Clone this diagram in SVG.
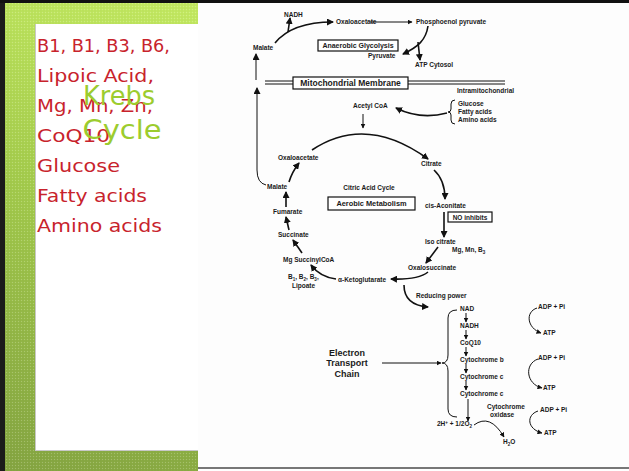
<svg xmlns="http://www.w3.org/2000/svg" width="629" height="471" viewBox="0 0 629 471">
<style>
.lbl{font-family:"Liberation Sans",Arial,sans-serif;font-weight:bold;font-size:6.5px;fill:#1a1a1a}
.mid{text-anchor:middle}
.big{font-family:"Liberation Sans",Arial,sans-serif;font-weight:bold;font-size:9px;fill:#1a1a1a;text-anchor:middle}
.red{font-family:"DejaVu Sans","Liberation Sans",sans-serif;font-size:18.5px;fill:#c8232c}
.title{font-family:"DejaVu Sans","Liberation Sans",sans-serif;font-size:26px;fill:#9ccc2e;text-anchor:middle}
.c{fill:none;stroke:#111;stroke-width:1.6}
.t{fill:none;stroke:#111;stroke-width:1}
.box{fill:#fff;stroke:#111;stroke-width:1.2}
</style>
<defs>
<marker id="ah" markerUnits="userSpaceOnUse" markerWidth="7" markerHeight="7" refX="6" refY="3.5" orient="auto">
<path d="M0,0 L7,3.5 L0,7 z" fill="#111"/>
</marker>
<marker id="as" markerUnits="userSpaceOnUse" markerWidth="5" markerHeight="5" refX="4.5" refY="2.5" orient="auto">
<path d="M0,0 L5,2.5 L0,5 z" fill="#111"/>
</marker>
<linearGradient id="grn" gradientUnits="userSpaceOnUse" x1="170" y1="0" x2="30" y2="471">
<stop offset="0" stop-color="#c4ea62"/>
<stop offset="0.45" stop-color="#a3cb4c"/>
<stop offset="1" stop-color="#86a642"/>
</linearGradient>
<pattern id="tex" width="3" height="3" patternUnits="userSpaceOnUse">
<rect width="1" height="1" fill="#ffffff" fill-opacity="0.22"/>
<rect x="1.5" y="1.5" width="1" height="1" fill="#000000" fill-opacity="0.08"/>
</pattern>
</defs>

<g id="slide-frame">
<rect x="0" y="0" width="629" height="471" fill="#ffffff"/>
<rect x="5" y="3" width="193" height="468" fill="url(#grn)"/>
<rect x="5" y="3" width="193" height="468" fill="url(#tex)"/>
<rect x="0" y="0" width="5" height="471" fill="#1b1b1b"/>
<rect x="0" y="0" width="629" height="3" fill="#111"/>
<rect x="35" y="24" width="163" height="427" fill="#c8c8c8"/>
<rect x="36" y="24" width="162" height="426" fill="#ffffff"/>
<rect x="198" y="3" width="431" height="465" fill="#fdfdfd"/>
<rect x="198" y="467" width="431" height="2" fill="#777"/>
</g>

<g id="nutrient-list">
<text class="red" x="37" y="52" textLength="133" lengthAdjust="spacingAndGlyphs">B1, B1, B3, B6,</text>
<text class="red" x="37" y="82" textLength="117" lengthAdjust="spacingAndGlyphs">Lipoic Acid,</text>
<text class="red" x="37" y="112" textLength="116" lengthAdjust="spacingAndGlyphs">Mg, Mn, Zn,</text>
<text class="red" x="37" y="142" textLength="73" lengthAdjust="spacingAndGlyphs">CoQ10</text>
<text class="red" x="37" y="172" textLength="83" lengthAdjust="spacingAndGlyphs">Glucose</text>
<text class="red" x="37" y="202" textLength="110" lengthAdjust="spacingAndGlyphs">Fatty acids</text>
<text class="red" x="37" y="232" textLength="125" lengthAdjust="spacingAndGlyphs">Amino acids</text>
</g>

<g id="title">
<text class="title" x="119" y="105" textLength="72" lengthAdjust="spacingAndGlyphs">Krebs</text>
<text class="title" x="122" y="139" textLength="79" lengthAdjust="spacingAndGlyphs">Cycle</text>
</g>

<g id="connectors">
<path class="c" d="M275,43 Q292,22 333,22" marker-end="url(#ah)"/>
<path class="c" d="M288,32 L290,18" marker-end="url(#ah)"/>
<path class="t" d="M370,22 L412,22" marker-end="url(#as)"/>
<path class="c" d="M428,26 C426,40 418,47 403,54" marker-end="url(#ah)"/>
<path class="c" d="M418,42 L420,60" marker-end="url(#ah)"/>
<path class="t" d="M266,185 Q257,183 257,170 L257,88" marker-end="url(#ah)"/>
<path class="t" d="M256,80 L256,54" marker-end="url(#ah)"/>
<path class="t" d="M265,81 L293,81 M265,84 L293,84 M408,81 L505,81 M408,84 L505,84"/>
<path class="t" d="M363,114 L363,128" marker-end="url(#as)"/>
<path class="c" d="M447,113 Q420,120 396,108" marker-end="url(#ah)"/>
<path class="t" d="M455,100 Q451,100 451,104 L451,109 Q451,112 448,112 Q451,112 451,115 L451,120 Q451,124 455,124"/>
<path class="c" d="M312,150 Q366,114 428,159" marker-end="url(#ah)"/>
<path class="c" d="M289,182 Q292,172 299,163" marker-end="url(#ah)"/>
<path class="c" d="M286,207 L286,192" marker-end="url(#ah)"/>
<path class="c" d="M289,230 L286,217" marker-end="url(#ah)"/>
<path class="c" d="M302,253 L293,240" marker-end="url(#ah)"/>
<path class="c" d="M336,279 Q320,277 311,265" marker-end="url(#ah)"/>
<path class="c" d="M428,272 Q418,280 391,279" marker-end="url(#ah)"/>
<path class="c" d="M438,247 L426,263" marker-end="url(#ah)"/>
<path class="c" d="M444,212 L444,237" marker-end="url(#ah)"/>
<path class="c" d="M434,170 Q445,180 445,199" marker-end="url(#ah)"/>
<path class="c" d="M404,285 Q404,305 428,307" marker-end="url(#ah)"/>
<path class="t" d="M382,363 L441,363" marker-end="url(#as)"/>
<path class="t" d="M457,310 Q448,310 448,318 L448,355 Q448,363 442,363 Q448,363 448,371 L448,409 Q448,417 457,417"/>
<path class="t" d="M466,313 L466,322" marker-end="url(#as)"/>
<path class="t" d="M466,330 L466,339" marker-end="url(#as)"/>
<path class="t" d="M466,347 L466,356" marker-end="url(#as)"/>
<path class="t" d="M466,364 L466,373" marker-end="url(#as)"/>
<path class="t" d="M466,381 L466,390" marker-end="url(#as)"/>
<path class="t" d="M468,399 L468,421" marker-end="url(#as)"/>
<path class="t" d="M474,425 Q490,413 504,437" marker-end="url(#as)"/>
<path class="t" d="M537,308 C525,312 527,328 541,333" marker-end="url(#as)"/>
<path class="t" d="M538,359 C524,364 526,384 542,388" marker-end="url(#as)"/>
<path class="t" d="M538,411 C526,415 527,429 542,433" marker-end="url(#as)"/>
</g>

<g id="cytosol">
<text class="lbl" x="284" y="17">NADH</text>
<text class="lbl" x="336" y="24">Oxaloacetate</text>
<text class="lbl" x="416" y="24">Phosphoenol pyruvate</text>
<text class="lbl" x="253" y="50">Malate</text>
<rect class="box" x="318" y="40" width="80" height="11"/>
<text class="lbl mid" x="358" y="48" style="font-size:7px">Anaerobic Glycolysis</text>
<text class="lbl" x="368" y="58">Pyruvate</text>
<text class="lbl" x="415" y="67">ATP Cytosol</text>
</g>

<g id="membrane">
<rect class="box" x="293" y="77" width="115" height="12"/>
<text class="lbl mid" x="350.5" y="86" style="font-size:8.5px">Mitochondrial Membrane</text>
<text class="lbl" x="457" y="93">Intramitochondrial</text>
</g>

<g id="acetyl-coa">
<text class="lbl" x="353" y="108">Acetyl CoA</text>
<text class="lbl" x="458" y="106">Glucose</text>
<text class="lbl" x="458" y="114">Fatty acids</text>
<text class="lbl" x="458" y="122">Amino acids</text>
</g>

<g id="citric-acid-cycle">
<text class="lbl" x="278" y="160">Oxaloacetate</text>
<text class="lbl" x="421" y="166">Citrate</text>
<text class="lbl" x="267" y="189">Malate</text>
<text class="lbl mid" x="369" y="190">Citric Acid Cycle</text>
<rect class="box" x="328" y="197" width="87" height="13"/>
<text class="lbl mid" x="371.5" y="206" style="font-size:7.4px">Aerobic Metabolism</text>
<text class="lbl" x="425" y="208">cis-Aconitate</text>
<rect class="box" x="448" y="212" width="44" height="10"/>
<text class="lbl mid" x="470" y="219.5">NO inhibits</text>
<text class="lbl" x="273" y="214">Fumarate</text>
<text class="lbl" x="278" y="237">Succinate</text>
<text class="lbl" x="425" y="244">Iso citrate</text>
<text class="lbl" x="452" y="252">Mg, Mn, B<tspan style="font-size:4.5px" dy="1.5">3</tspan></text>
<text class="lbl" x="283" y="262">Mg SuccinylCoA</text>
<text class="lbl" x="408" y="270">Oxalosuccinate</text>
<text class="lbl" x="288" y="279">B<tspan style="font-size:4.5px" dy="1.5">1</tspan><tspan dy="-1.5">, B</tspan><tspan style="font-size:4.5px" dy="1.5">2</tspan><tspan dy="-1.5">, B</tspan><tspan style="font-size:4.5px" dy="1.5">3</tspan><tspan dy="-1.5">,</tspan></text>
<text class="lbl" x="292" y="288">Lipoate</text>
<text class="lbl" x="338" y="282">α-Ketoglutarate</text>
</g>

<g id="electron-transport">
<text class="lbl" x="416" y="298">Reducing power</text>
<text class="big" x="347" y="356">Electron</text>
<text class="big" x="347" y="366">Transport</text>
<text class="big" x="347" y="377">Chain</text>
<text class="lbl" x="460" y="311">NAD</text>
<text class="lbl" x="460" y="328">NADH</text>
<text class="lbl" x="460" y="345">CoQ10</text>
<text class="lbl" x="460" y="362">Cytochrome b</text>
<text class="lbl" x="460" y="379">Cytochrome c</text>
<text class="lbl" x="460" y="396">Cytochrome c</text>
<text class="lbl" x="487" y="409">Cytochrome</text>
<text class="lbl" x="490" y="417">oxidase</text>
<text class="lbl" x="437" y="426">2H<tspan style="font-size:4.5px" dy="-2">+</tspan><tspan dy="2"> + 1/2O</tspan><tspan style="font-size:4.5px" dy="1.5">2</tspan></text>
<text class="lbl" x="503" y="444">H<tspan style="font-size:4.5px" dy="1.5">2</tspan><tspan dy="-1.5">O</tspan></text>
</g>

<g id="atp-synthesis">
<text class="lbl" x="538" y="309">ADP + Pi</text>
<text class="lbl" x="543" y="335">ATP</text>
<text class="lbl" x="538" y="360">ADP + Pi</text>
<text class="lbl" x="543" y="390">ATP</text>
<text class="lbl" x="540" y="412">ADP + Pi</text>
<text class="lbl" x="544" y="435">ATP</text>
</g>
</svg>
